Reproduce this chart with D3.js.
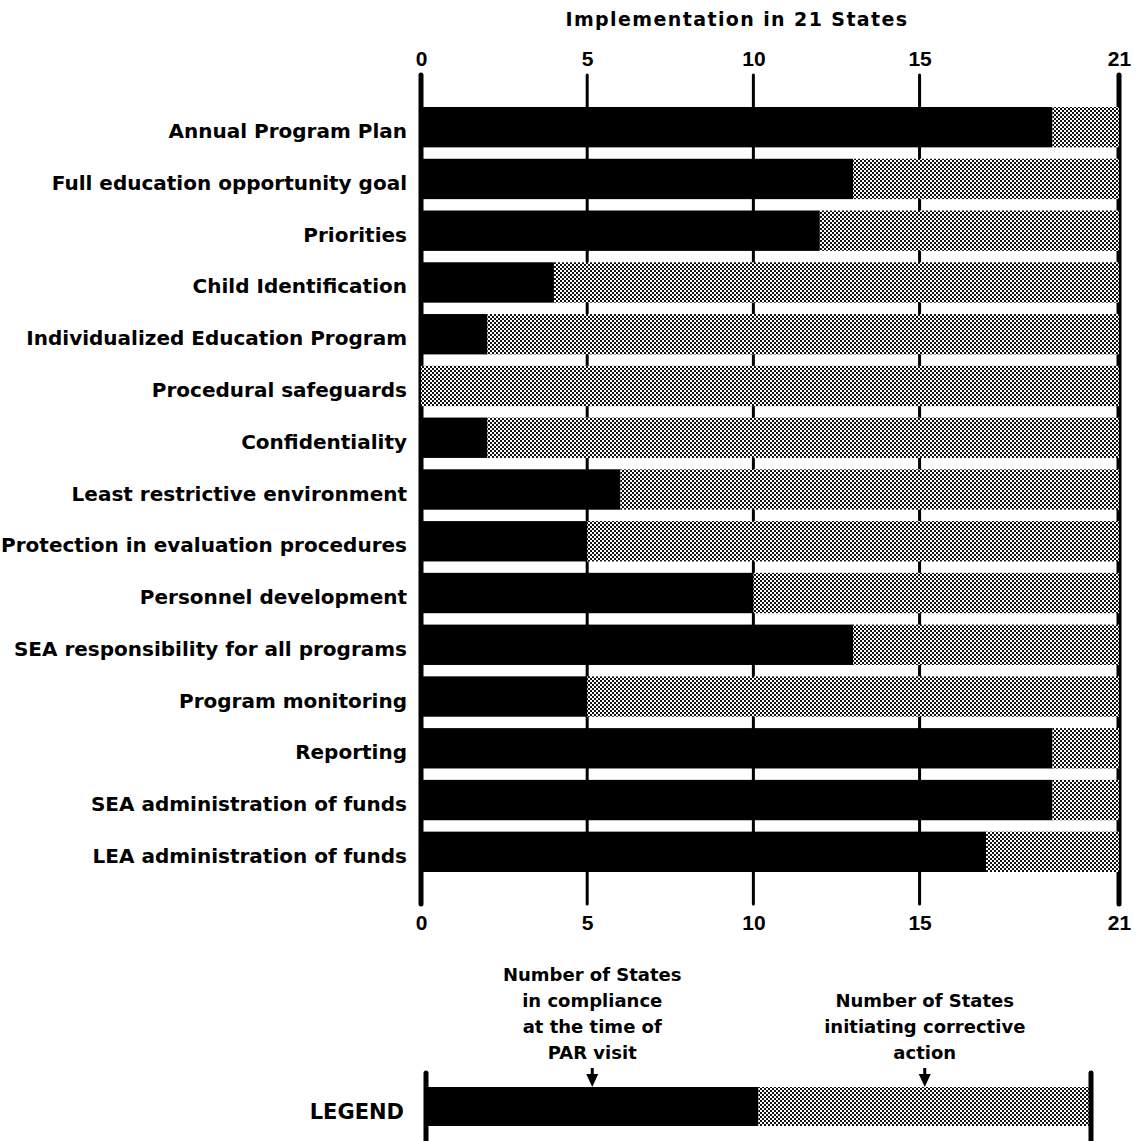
<!DOCTYPE html>
<html>
<head>
<meta charset="utf-8">
<script src="https://cdn.jsdelivr.net/npm/d3@7"></script>
<style>
  body { margin: 0; background: #fff; }
  text { font-family: "DejaVu Sans", sans-serif; font-weight: bold; fill: #000; }
  .num text { font-family: "Liberation Sans", Arial, sans-serif; }
</style>
</head>
<body>
<div id="chart"></div>
<script>
// Requirements reviewed, number of States in compliance at PAR visit
const requirements = [
  "Annual Program Plan",
  "Full education opportunity goal",
  "Priorities",
  "Child Identification",
  "Individualized Education Program",
  "Procedural safeguards",
  "Confidentiality",
  "Least restrictive environment",
  "Protection in evaluation procedures",
  "Personnel development",
  "SEA responsibility for all programs",
  "Program monitoring",
  "Reporting",
  "SEA administration of funds",
  "LEA administration of funds"
];
const inCompliance = [19, 13, 12, 4, 2, 0, 2, 6, 5, 10, 13, 5, 19, 19, 17];
const totalStates = 21;
const corrective = inCompliance.map(d => totalStates - d);
const tickValues = [0, 5, 10, 15, 21];

const width = 1139, height = 1141;
const svg = d3.select("#chart").append("svg")
    .attr("width", width)
    .attr("height", height);

// stipple pattern for "corrective action"
const defs = svg.append("defs");
const pat = defs.append("pattern")
    .attr("id", "stipple")
    .attr("patternUnits", "userSpaceOnUse")
    .attr("width", 4).attr("height", 4);
pat.append("rect").attr("width", 4).attr("height", 4).attr("fill", "#fff");
pat.append("rect").attr("width", 2).attr("height", 2).attr("fill", "#111");
pat.append("rect").attr("x", 2).attr("y", 2).attr("width", 2).attr("height", 2).attr("fill", "#111");

const x = d3.scaleLinear().domain([0, totalStates]).range([421, 1119]);
const y = d3.scaleBand().domain(requirements).range([107, 872]).paddingInner(0.22);

const gridTop = 75, gridBottom = 904;

// title
svg.append("text")
    .attr("x", 737).attr("y", 26)
    .attr("text-anchor", "middle")
    .style("font-size", "19px")
    .style("letter-spacing", "1.4px")
    .text("Implementation in 21 States");

// gridlines and frame
svg.append("g").selectAll("line")
    .data(tickValues)
    .join("line")
    .attr("x1", d => x(d)).attr("x2", d => x(d))
    .attr("y1", gridTop).attr("y2", gridBottom)
    .attr("stroke", "#000")
    .attr("stroke-width", d => (d === 0 || d === totalStates) ? 5 : 3)
    .attr("stroke-linecap", "round");

// axes (top and bottom), labels only
const axisTop = d3.axisTop(x).tickValues(tickValues).tickSize(0).tickPadding(0);
const axisBottom = d3.axisBottom(x).tickValues(tickValues).tickSize(0).tickPadding(0);
svg.append("g").attr("class", "num").attr("transform", "translate(0,66)").call(axisTop)
    .call(g => g.select(".domain").remove())
    .selectAll("text").style("font-size", "21px").attr("dy", 0);
svg.append("g").attr("class", "num").attr("transform", "translate(0,930)").call(axisBottom)
    .call(g => g.select(".domain").remove())
    .selectAll("text").style("font-size", "21px").attr("dy", 0);

// bars
const rows = svg.append("g").selectAll("g")
    .data(requirements.map((r, i) => ({ r, c: inCompliance[i], a: corrective[i] })))
    .join("g");

rows.append("rect")
    .attr("x", x(0))
    .attr("y", d => y(d.r))
    .attr("width", d => x(d.c) - x(0))
    .attr("height", y.bandwidth())
    .attr("fill", "#000");

rows.append("rect")
    .attr("x", d => x(d.c))
    .attr("y", d => y(d.r))
    .attr("width", d => x(d.c + d.a) - x(d.c))
    .attr("height", y.bandwidth())
    .attr("fill", "url(#stipple)");

// category labels
rows.append("text")
    .attr("x", 407)
    .attr("y", d => y(d.r) + y.bandwidth() / 2 + 4)
    .attr("dy", "0.35em")
    .attr("text-anchor", "end")
    .style("font-size", "20px")
    .text(d => d.r);

// legend
const lx = d3.scaleLinear().domain([0, 20]).range([426, 1091]);
const legendSplit = 10;
const legendTop = 1087, legendH = 39;

svg.append("text")
    .attr("x", 404).attr("y", 1119)
    .attr("text-anchor", "end")
    .style("font-size", "21px")
    .text("LEGEND");

svg.append("rect")
    .attr("x", lx(0)).attr("y", legendTop)
    .attr("width", lx(legendSplit) - lx(0)).attr("height", legendH)
    .attr("fill", "#000");
svg.append("rect")
    .attr("x", lx(legendSplit)).attr("y", legendTop)
    .attr("width", lx(20) - lx(legendSplit)).attr("height", legendH)
    .attr("fill", "url(#stipple)");
svg.append("g").selectAll("line")
    .data([0, 20])
    .join("line")
    .attr("x1", d => lx(d)).attr("x2", d => lx(d))
    .attr("y1", 1073).attr("y2", 1141)
    .attr("stroke", "#000").attr("stroke-width", 5)
    .attr("stroke-linecap", "round");

const legendNotes = [
  { at: 5, lines: ["Number of States", "in compliance", "at the time of", "PAR visit"] },
  { at: 15, lines: ["Number of States", "initiating corrective", "action"] }
];
legendNotes.forEach(n => {
  const cx = lx(n.at);
  const t = svg.append("text")
      .attr("text-anchor", "middle")
      .style("font-size", "18px");
  const start = 1059 - (n.lines.length - 1) * 26;
  n.lines.forEach((l, i) => {
    t.append("tspan").attr("x", cx).attr("y", start + i * 26).text(l);
  });
  svg.append("path")
      .attr("d", `M${cx - 6},1074 L${cx + 6},1074 L${cx},1087 Z M${cx - 1.5},1068 h3 v7 h-3 Z`)
      .attr("fill", "#000");
});
</script>
</body>
</html>
